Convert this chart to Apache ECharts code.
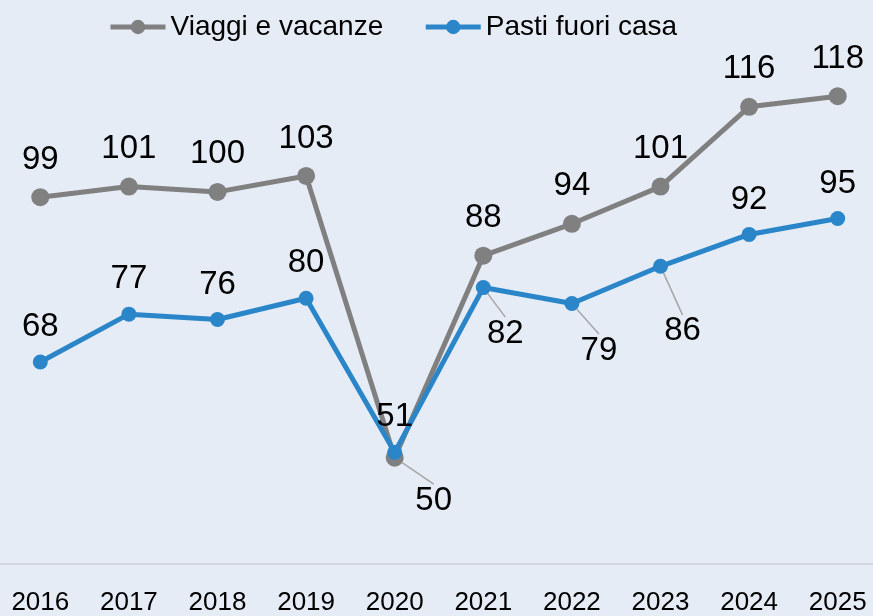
<!DOCTYPE html>
<html>
<head>
<meta charset="utf-8">
<script src="https://cdn.jsdelivr.net/npm/echarts@6/dist/echarts.min.js"></script>
<style>
  html, body { margin: 0; padding: 0; background: #e6ecf5; }
  #chart { width: 873px; height: 616px; }
</style>
</head>
<body>
<div id="chart"></div>
<script>
const years = ['2016', '2017', '2018', '2019', '2020', '2021', '2022', '2023', '2024', '2025'];
const viaggi = [99, 101, 100, 103, 50, 88, 94, 101, 116, 118];
const pasti = [68, 77, 76, 80, 51, 82, 79, 86, 92, 95];

const GRAY = '#808080';
const BLUE = '#2a86c9';
const FONT = '"Liberation Sans", Arial, sans-serif';

// labels pushed away from their point, with a leader line: [seriesIndex, dataIndex, dx, dy]
const MOVED_LABELS = [
  [0, 4, 39, 43],
  [1, 5, 22, 46],
  [1, 6, 27, 47],
  [1, 7, 22, 65]
];

function findMoved(s, i) {
  for (let k = 0; k < MOVED_LABELS.length; k++) {
    if (MOVED_LABELS[k][0] === s && MOVED_LABELS[k][1] === i) return MOVED_LABELS[k];
  }
  return null;
}

function buildData(values, s) {
  return values.map((v, i) => {
    if (findMoved(s, i)) {
      return {
        value: v,
        label: { position: 'inside' },
        labelLine: { show: true, lineStyle: { color: '#a6a6a6', width: 1.5 } }
      };
    }
    return v;
  });
}

const chart = echarts.init(document.getElementById('chart'));
chart.setOption({
  animation: false,
  backgroundColor: '#e6ecf5',
  legend: {
    left: 103,
    top: 8,
    itemWidth: 55,
    itemHeight: 18,
    itemGap: 40,
    lineStyle: { width: 5 },
    textStyle: { fontFamily: FONT, fontSize: 28, color: '#000' },
    data: ['Viaggi e vacanze', 'Pasti fuori casa']
  },
  grid: { left: -4, right: -9, top: 59, bottom: 52, outerBoundsMode: 'none', containLabel: false },
  xAxis: {
    type: 'category',
    data: years,
    boundaryGap: true,
    axisLine: { lineStyle: { color: '#d3d6db', width: 2 } },
    axisTick: { show: false },
    axisLabel: { fontFamily: FONT, fontSize: 26, color: '#000', margin: 26 }
  },
  yAxis: {
    type: 'value',
    min: 30,
    max: 125,
    show: false,
    splitLine: { show: false }
  },
  labelLayout: function (params) {
    const m = findMoved(params.seriesIndex, params.dataIndex);
    if (m) return { dx: m[2], dy: m[3] };
    return {};
  },
  series: [
    {
      name: 'Viaggi e vacanze',
      type: 'line',
      data: buildData(viaggi, 0),
      color: GRAY,
      lineStyle: { width: 5, color: GRAY },
      symbol: 'circle',
      symbolSize: 18,
      showAllSymbol: true,
      label: {
        show: true,
        position: 'top',
        distance: 12,
        fontFamily: FONT,
        fontSize: 33,
        color: '#000'
      }
    },
    {
      name: 'Pasti fuori casa',
      type: 'line',
      data: buildData(pasti, 1),
      color: BLUE,
      lineStyle: { width: 5, color: BLUE },
      symbol: 'circle',
      symbolSize: 15,
      showAllSymbol: true,
      label: {
        show: true,
        position: 'top',
        distance: 11,
        fontFamily: FONT,
        fontSize: 33,
        color: '#000'
      }
    }
  ]
});
</script>
</body>
</html>
